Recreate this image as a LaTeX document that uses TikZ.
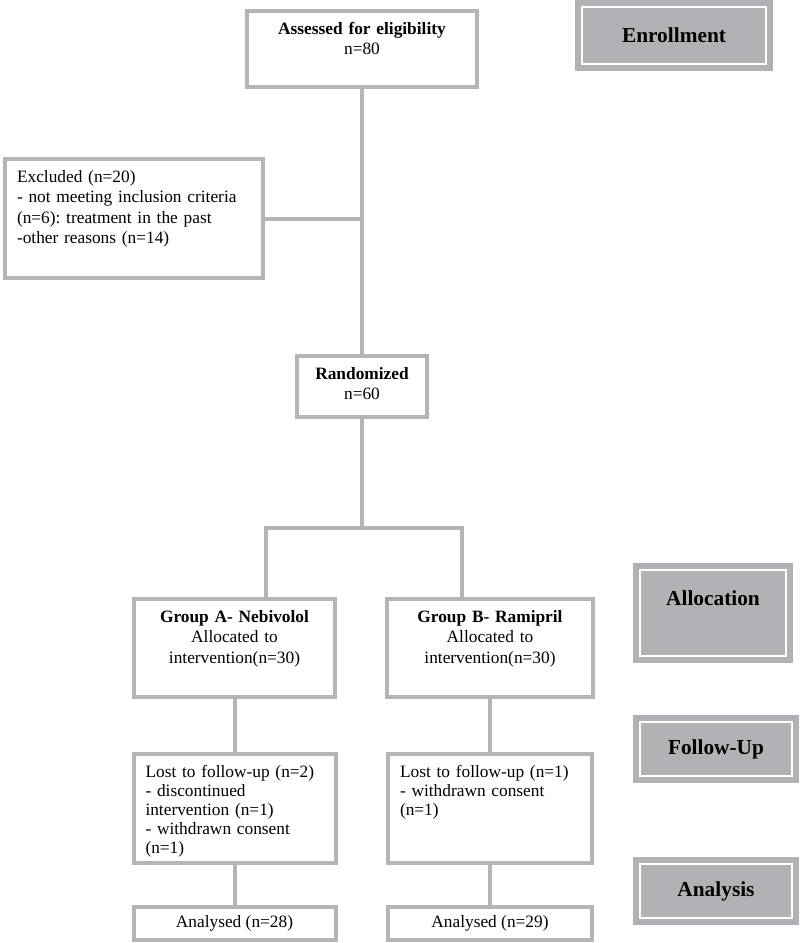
\documentclass[tikz,border=0pt]{standalone}
\usepackage{fontspec}
\setmainfont{Liberation Serif}
\frenchspacing
\definecolor{linegray}{RGB}{180,181,183}
\definecolor{phasegray}{RGB}{176,178,181}

\begin{document}
\begin{tikzpicture}[x=0.75pt,y=-0.75pt,
  frame/.style={draw=linegray,line width=3pt,fill=white,font=\fontsize{13}{15.4}\selectfont},
  box/.style={frame,inner xsep=9pt,inner ysep=6.5pt,text height=10.8pt},
  phase/.style={draw=phasegray,fill=phasegray,line width=4.3pt,double=white,double distance=2pt,
    inner sep=0pt,font=\fontsize{16}{19}\selectfont\bfseries},
  conn/.style={draw=linegray,line width=3pt}]
	\useasboundingbox (0,0) rectangle (800,943);

	% flow boxes
	\node[box,text width=154.5pt,text depth=33.2pt,align=center] (assess) at (362,49)
		{\textbf{Assessed for eligibility}\\n=80};
	\node[box,text width=175.5pt,text depth=65.45pt,align=left] (excl) at (134,218.5)
		{Excluded (n=20)\\- not meeting inclusion criteria\\(n=6): treatment in the past\\-other reasons (n=14)};
	\node[box,text width=79.5pt,text depth=21.95pt,align=center] (rand) at (362,386.5)
		{\textbf{Randomized}\\n=60};
	\node[box,text width=132.75pt,text depth=49.7pt,align=center] (grpA) at (234.5,648)
		{\textbf{Group A- Nebivolol}\\Allocated to\\intervention(n=30)};
	\node[box,text width=136.5pt,text depth=49.7pt,align=center] (grpB) at (490,648)
		{\textbf{Group B- Ramipril}\\Allocated to\\intervention(n=30)};
	\node[box,text width=133.5pt,text depth=57.95pt,align=left,font=\fontsize{13}{14.3}\selectfont] (fuA) at (234.5,808.5)
		{Lost to follow-up (n=2)\\- discontinued\\intervention (n=1)\\- withdrawn consent\\(n=1)};
	\node[box,text width=135pt,text depth=57.95pt,align=left,font=\fontsize{13}{14.3}\selectfont] (fuB) at (490,808.5)
		{Lost to follow-up (n=1)\\- withdrawn consent\\(n=1)};
	\node[frame,minimum width=151.5pt,minimum height=24.75pt] (anA) at (234.5,923.5) {Analysed (n=28)};
	\node[frame,minimum width=153pt,minimum height=24.75pt] (anB) at (490,923.5) {Analysed (n=29)};

	% phase labels
	\node[phase,minimum width=138pt,minimum height=42.75pt] (enrol) at (674,35.5) {Enrollment};
	\node[phase,minimum width=109.5pt,minimum height=64.5pt,text height=10.8pt,text depth=22.7pt] (alloc) at (713,613) {Allocation};
	\node[phase,minimum width=114pt,minimum height=40.5pt] (follow) at (716,749) {Follow-Up};
	\node[phase,minimum width=114pt,minimum height=40.5pt] (analysis) at (716,891) {Analysis};

	% connectors
	\coordinate (split) at (362,528);
	\coordinate (ja) at (266,528);
	\coordinate (jb) at (462,528);
	\draw[conn] (assess.south) -- (rand.north);
	\draw[conn] (excl.east) -- (excl.east -| assess.south);
	\draw[conn] (rand.south) -- (split);
	\draw[conn] (ja |- grpA.north) -- (ja) -- (jb) -- (jb |- grpB.north);
	\draw[conn] (grpA.south) -- (fuA.north);
	\draw[conn] (fuA.south) -- (anA.north);
	\draw[conn] (grpB.south) -- (fuB.north);
	\draw[conn] (fuB.south) -- (anB.north);
\end{tikzpicture}
\end{document}
